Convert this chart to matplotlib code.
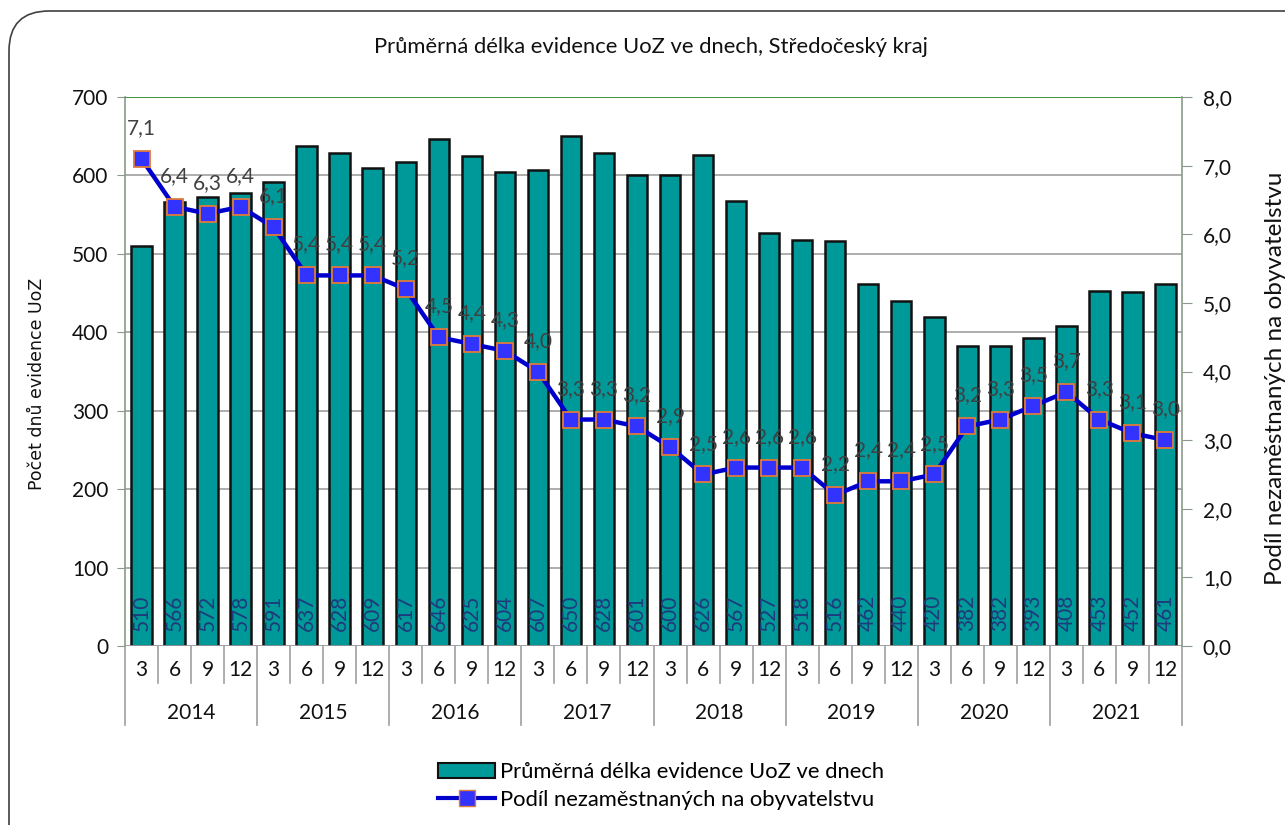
import matplotlib
matplotlib.use("Agg")
import matplotlib.pyplot as plt
from matplotlib.patches import FancyBboxPatch, Patch
from matplotlib.lines import Line2D
from matplotlib.transforms import IdentityTransform, blended_transform_factory
import numpy as np

plt.rcParams['font.family'] = ['Lato', 'DejaVu Sans']

years = ["2014", "2015", "2016", "2017", "2018", "2019", "2020", "2021"]
months = ["3", "6", "9", "12"]
days = [510, 566, 572, 578, 591, 637, 628, 609, 617, 646, 625, 604, 607, 650, 628, 601,
        600, 626, 567, 527, 518, 516, 462, 440, 420, 382, 382, 393, 408, 453, 452, 461]
share = [7.1, 6.4, 6.3, 6.4, 6.1, 5.4, 5.4, 5.4, 5.2, 4.5, 4.4, 4.3, 4.0, 3.3, 3.3, 3.2,
         2.9, 2.5, 2.6, 2.6, 2.6, 2.2, 2.4, 2.4, 2.5, 3.2, 3.3, 3.5, 3.7, 3.3, 3.1, 3.0]
title = "Průměrná délka evidence UoZ ve dnech, Středočeský kraj"
bar_name = "Průměrná délka evidence UoZ ve dnech"
line_name = "Podíl nezaměstnaných na obyvatelstvu"
ylabel_left = "Počet dnů evidence UoZ"
ylabel_right = "Podíl nezaměstnaných na obyvatelstvu"

W, H = 1285, 825
fig = plt.figure(figsize=(W / 100, H / 100), dpi=100)
fig.patch.set_facecolor("white")

# rounded frame
frame = FancyBboxPatch((9, -60), 1400, H - 11 + 60,
                       boxstyle="round,pad=0,rounding_size=40",
                       transform=IdentityTransform(), facecolor="none",
                       edgecolor="#404040", linewidth=1.2)
fig.add_artist(frame)

L, R, T, B = 125, 1182, 97, 646
ax = fig.add_axes([L / W, 1 - B / H, (R - L) / W, (B - T) / H])
n = len(days)
x = np.arange(n)
ax.set_xlim(-0.5, n - 0.5)
ax.set_ylim(0, 700)
ax.set_yticks(range(0, 701, 100))
ax.set_axisbelow(True)
ax.yaxis.grid(True, color="#a0a0a0", linewidth=1.2)
ax.set_xticks([])
for s in ["top", "bottom"]:
    ax.spines[s].set_visible(False)
ax.spines["left"].set_color("#8a9a8a")
ax.spines["left"].set_linewidth(1.2)
ax.spines["right"].set_visible(False)
ax.tick_params(axis="y", direction="out", length=6, color="#8a9a8a",
               labelsize=15, pad=6, labelcolor="#111111")
ax.axhline(700, color="#2e8b2e", linewidth=1.2, zorder=3)
ax.axhline(0, color="#a0a0a0", linewidth=1.2, zorder=3)

bars = ax.bar(x, days, width=0.62, color="#009999", edgecolor="#111111",
              linewidth=1.8, zorder=2)
for xi, v in zip(x, days):
    ax.text(xi, 19, str(v), rotation=90, ha="center", va="bottom",
            color="#1f3a7a", fontsize=15, zorder=4)

ax2 = ax.twinx()
ax2.set_ylim(0, 8)
ax2.set_yticks(np.arange(0, 8.01, 1))
ax2.set_yticklabels([f"{v:.1f}".replace(".", ",") for v in np.arange(0, 8.01, 1)])
for s in ["top", "bottom", "left"]:
    ax2.spines[s].set_visible(False)
ax2.spines["right"].set_color("#8a9a8a")
ax2.spines["right"].set_linewidth(1.2)
ax2.tick_params(axis="y", direction="out", length=7, color="#8a9a8a",
                labelsize=15, pad=8, labelcolor="#111111")
ax2.plot(x, share, color="#0000cc", linewidth=3.2, marker="s", markersize=12,
         markerfacecolor="#3333ff", markeredgecolor="#e07a3a", markeredgewidth=1.3,
         zorder=5)
for xi, v in zip(x, share):
    ax2.annotate(f"{v:.1f}".replace(".", ","), (xi, v), xytext=(0, 15),
                 textcoords="offset points", ha="center", va="bottom",
                 fontsize=15, color="#404040", zorder=6)

# category axis (two-level)
trans = blended_transform_factory(ax.transData, ax.transAxes)
hpx = B - T
def fy(py):
    return -(py - B) / hpx
for i in range(n + 1):
    xb = i - 0.5
    is_year = (i % 4 == 0)
    y_end = fy(725) if is_year else fy(683)
    ax.plot([xb, xb], [0, y_end], transform=trans, color="#a0a0a0",
            linewidth=1.2, clip_on=False)
for i in range(n):
    ax.text(i, fy(670), months[i % 4], transform=trans, ha="center", va="center",
            fontsize=15, color="#111111")
for j, yr in enumerate(years):
    ax.text(j * 4 + 1.5, fy(713), yr, transform=trans, ha="center", va="center",
            fontsize=15, color="#111111")

fig.text(651 / W, 1 - 47 / H, title, ha="center", va="center", fontsize=15.8,
         color="#111111")
fig.text(37 / W, 1 - 384 / H, ylabel_left, rotation=90, ha="center", va="center",
         fontsize=12.5, color="#111111", family=["DejaVu Sans"])
fig.text(1275 / W, 1 - 378 / H, ylabel_right, rotation=90, ha="center", va="center",
         fontsize=17.5, color="#111111")

handles = [Patch(facecolor="#009999", edgecolor="#111111", linewidth=1.5),
           Line2D([0], [0], color="#0000cc", linewidth=3, marker="s", markersize=11,
                  markerfacecolor="#3333ff", markeredgecolor="#e07a3a")]
fig.legend(handles, [bar_name, line_name], loc="center", bbox_to_anchor=(661 / W, 1 - 786 / H),
           frameon=False, fontsize=15.8, handlelength=2.6, handletextpad=0.2,
           labelspacing=0.35, borderpad=0)

fig.savefig("out.png", dpi=100)
